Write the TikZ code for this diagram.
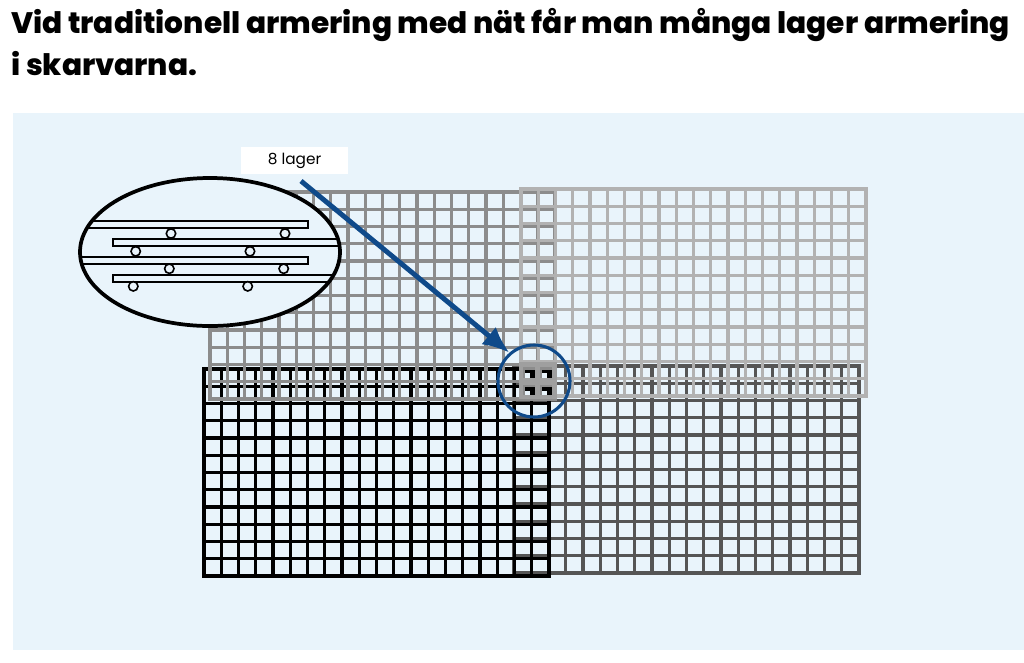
\documentclass[tikz,border=0pt]{standalone}
\usepackage{fontspec}
\setmainfont{Poppins}
\newfontfamily\titlefont{Poppins ExtraBold}
\usetikzlibrary{arrows.meta}
\definecolor{bgblue}{HTML}{E9F4FB}
\definecolor{ringblue}{HTML}{0F4A8A}
\definecolor{netdark}{HTML}{555555}
\definecolor{netmid}{HTML}{8C8C8C}
\definecolor{netlight}{HTML}{B2B2B2}
\newcommand{\armnet}[3]{% left, top, style
  \foreach \i in {0,...,20} \draw[#3] ({#1+\i*17.25},#2) -- ++(0,207);
  \foreach \j in {0,...,12} \draw[#3] (#1,{#2+\j*17.25}) -- ++(345,0);
}
\tikzset{
  netline/.style={line width=2.3pt, line cap=rect},
  bar/.style={draw=black, line width=1.5pt},
  rebar/.style={draw=black, fill=bgblue, line width=1.2pt},
  titletext/.style={anchor=base west, inner sep=0pt, font=\fontsize{22.2}{27}\titlefont},
}
\begin{document}
\begin{tikzpicture}[x=0.75pt,y=-0.75pt]
    \useasboundingbox (0,0) rectangle (1024,662);

    % Background
    \fill[bgblue] (13,113) rectangle (1024,650);

    % Title
    \node[titletext] (title1) at (11,33) {Vid traditionell armering med nät får man många lager armering};
    \node[titletext] (title2) at (11,75) {i skarvarna.};

    % Nets
    \armnet{514}{366}{netline, netdark}
    \armnet{204}{369}{netline, black}
    \armnet{210}{192}{netline, netmid}
    \armnet{521}{189}{netline, netlight}

    % Joint where all layers meet
    \fill[gray!75] (519,362) rectangle (557,399);
    \foreach \hx in {523,540} {
        \foreach \hy in {367,384.5} {
            \fill[gray!110!black] (\hx,\hy) rectangle +(11.5,10.5);
            \fill[black] (\hx+2,\hy+2.5) rectangle +(9.5,8);
            \fill[bgblue] (\hx+2,\hy+6) rectangle +(4.5,4.5);
        }
    }

    % Detail
    \begin{scope}
        \clip (210,252) ellipse (130 and 74);
        \fill[bgblue] (210,252) ellipse (130 and 74);
        \draw[bar] (60,221) rectangle (308,228);
        \draw[bar] (113,239) rectangle (360,246);
        \draw[bar] (60,257) rectangle (308,264);
        \draw[bar] (113,274.5) rectangle (360,281.5);
        \draw[rebar] (171,233.5) circle (4.7);
        \draw[rebar] (285,233.5) circle (4.7);
        \draw[rebar] (135.7,251.3) circle (4.7);
        \draw[rebar] (250,251.3) circle (4.7);
        \draw[rebar] (169.3,268.7) circle (4.7);
        \draw[rebar] (283.7,268.7) circle (4.7);
        \draw[rebar] (133.3,286.3) circle (4.7);
        \draw[rebar] (247.7,286.3) circle (4.7);
    \end{scope}
    \draw[line width=2.8pt] (210,252) ellipse (130 and 74);

    % Label and arrow
    \node[fill=white, minimum width=80.25pt, minimum height=20.25pt, inner sep=0pt, font=\fontsize{11.5}{12}\selectfont] (lagerlabel) at (294.5,160.5) {8 lager};
    \node[circle, draw=ringblue, line width=2.3pt, minimum size=54pt, inner sep=0pt] (ring) at (534,381) {};
    \coordinate (arrowstart) at (301,181);
    \draw[-{Latex[length=20pt,width=17pt]}, ringblue, line width=3.7pt] (arrowstart) -- (ring.131);
\end{tikzpicture}
\end{document}
